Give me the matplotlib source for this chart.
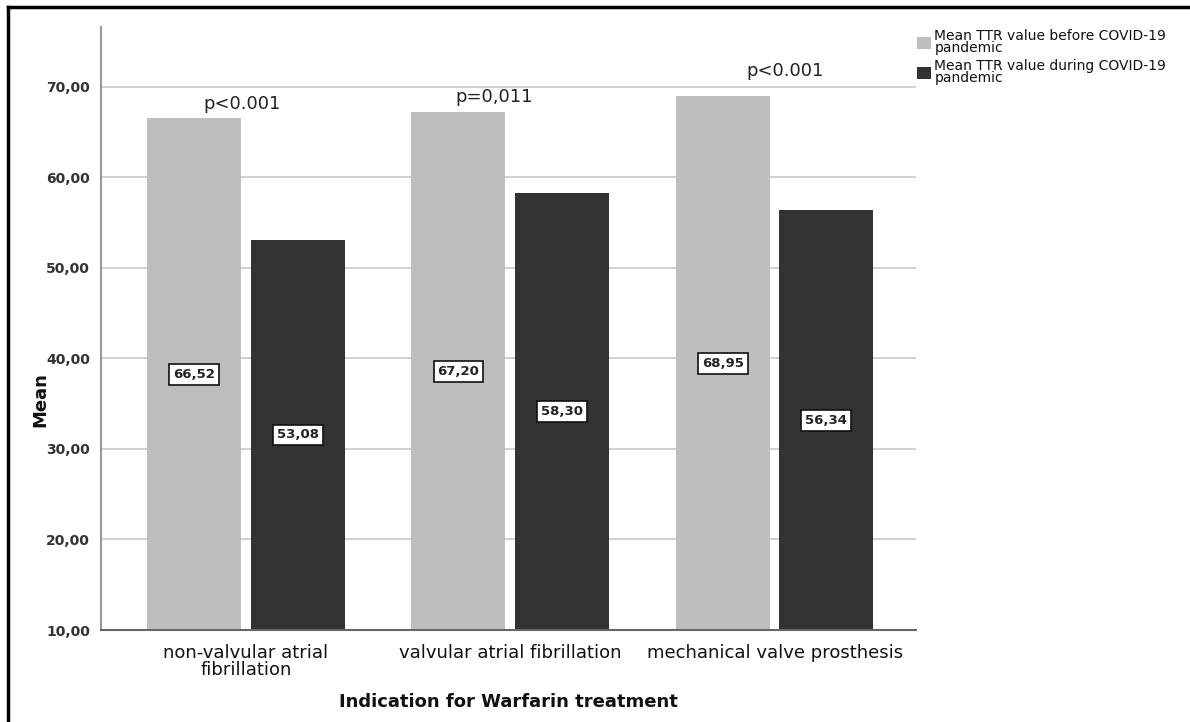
import matplotlib
matplotlib.use("Agg")
import matplotlib.pyplot as plt
from matplotlib.patches import Patch
from matplotlib.lines import Line2D
import numpy as np

categories = ["non-valvular atrial\nfibrillation", "valvular atrial fibrillation", "mechanical valve prosthesis"]
before = [66.52, 67.20, 68.95]
during = [53.08, 58.30, 56.34]
value_labels_before = ["66,52", "67,20", "68,95"]
value_labels_during = ["53,08", "58,30", "56,34"]
p_labels = ["p<0.001", "p=0,011", "p<0.001"]
p_x = [-0.015, 0.94, 2.04]
p_y = [68.1, 68.9, 71.7]
series_names = ["Mean TTR value before COVID-19\npandemic", "Mean TTR value during COVID-19\npandemic"]
yticks = [10, 20, 30, 40, 50, 60, 70]
ytick_labels = ["10,00", "20,00", "30,00", "40,00", "50,00", "60,00", "70,00"]

plt.rcParams['font.family'] = ['DejaVu Sans']

light = "#bebebe"
dark = "#333333"
base = 10

fig = plt.figure(figsize=(11.9, 7.22), dpi=100)
ax = fig.add_axes([101/1190, 1-630/722, (916-101)/1190, (630-27)/722])

x = np.arange(len(categories))
w = 0.355
off = 0.196
ax.bar(x - off, np.array(before) - base, w, bottom=base, color=light, zorder=2)
ax.bar(x + off, np.array(during) - base, w, bottom=base, color=dark, zorder=2)

box = dict(boxstyle="square,pad=0.3", facecolor="white", edgecolor="#111111", linewidth=1.2)
for i in range(len(categories)):
    ax.text(x[i] - off, (base + before[i]) / 2, value_labels_before[i], ha="center", va="center",
            fontsize=9.5, fontweight="semibold", color="#222222", bbox=box, zorder=4)
    ax.text(x[i] + off, (base + during[i]) / 2, value_labels_during[i], ha="center", va="center",
            fontsize=9.5, fontweight="semibold", color="#222222", bbox=box, zorder=4)
    ax.text(p_x[i], p_y[i], p_labels[i], ha="center", va="center", fontsize=13, color="#222222", zorder=4)

ax.set_xlim(-0.548, 2.535)
ax.set_ylim(10, 76.6)
ax.set_yticks(yticks)
ax.set_yticklabels(ytick_labels, fontsize=10, color="#333333", fontweight="bold")
ax.set_xticks(x)
ax.set_xticklabels(categories, fontsize=13, color="#111111", linespacing=0.95)
ax.tick_params(axis="both", length=0, pad=8)
ax.tick_params(axis="x", pad=10)
ax.yaxis.grid(True, color="#c8c8c8", linewidth=1.2, zorder=0)
ax.set_axisbelow(True)
for s in ["top", "right"]:
    ax.spines[s].set_visible(False)
ax.spines["left"].set_color("#9a9a9a")
ax.spines["left"].set_linewidth(1.5)
ax.spines["bottom"].set_color("#666666")
ax.spines["bottom"].set_linewidth(1.5)

fig.text(40/1190, 1-400/722, "Mean", rotation=90, ha="center", va="center", fontsize=13, fontweight="bold", color="#111111")
fig.text(508/1190, 1-702/722, "Indication for Warfarin treatment", ha="center", va="center", fontsize=13, fontweight="bold", color="#111111")

handles = [Patch(facecolor=light, edgecolor="none"), Patch(facecolor=dark, edgecolor="none")]
fig.legend(handles, series_names, loc="upper left", bbox_to_anchor=(917/1190, 1-29/722),
           frameon=False, fontsize=10, handlelength=1.0, handleheight=1.0, handletextpad=0.25,
           labelspacing=0.25, borderaxespad=0, borderpad=0)
for t in fig.legends[0].get_texts():
    t.set_linespacing(0.85)
    t.set_color("#111111")

fig.add_artist(Line2D([8/1190, 1], [1-7/722, 1-7/722], color="black", linewidth=2.5, transform=fig.transFigure))
fig.add_artist(Line2D([8/1190, 8/1190], [0, 1-7/722], color="black", linewidth=2.5, transform=fig.transFigure))

fig.savefig("out.png", dpi=100)
